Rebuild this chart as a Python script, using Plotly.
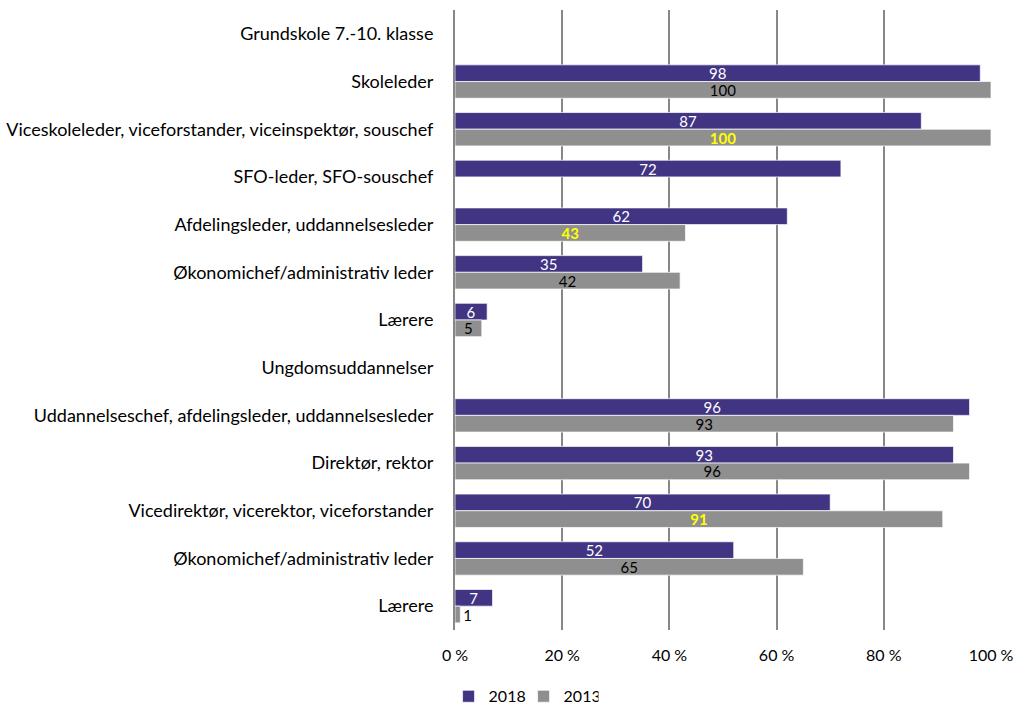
import plotly.graph_objects as go

categories = [
    'Grundskole 7.-10. klasse',
    'Skoleleder',
    'Viceskoleleder, viceforstander, viceinspektør, souschef',
    'SFO-leder, SFO-souschef',
    'Afdelingsleder, uddannelsesleder',
    'Økonomichef/administrativ leder',
    'Lærere',
    'Ungdomsuddannelser',
    'Uddannelseschef, afdelingsleder, uddannelsesleder',
    'Direktør, rektor',
    'Vicedirektør, vicerektor, viceforstander',
    'Økonomichef/administrativ leder',
    'Lærere',
]
values_2018 = [None, 98, 87, 72, 62, 35, 6, None, 96, 93, 70, 52, 7]
values_2013 = [None, 100, 100, None, 43, 42, 5, None, 93, 96, 91, 65, 1]
# yellow labels mark the highlighted 2013 values
highlight_2013 = [False, False, True, False, True, False, False, False, False, False, True, False, False]
x_ticks = [0, 20, 40, 60, 80, 100]
x_ticktext = ['0 %', '20 %', '40 %', '60 %', '80 %', '100 %']

positions = list(range(len(categories)))


def labels(values):
    return ['' if v is None else str(v) for v in values]


def text_positions(values):
    return ['outside' if (v is not None and v < 3) else 'inside' for v in values]


colors_2013 = ['#ffff00' if h else '#000000' for h in highlight_2013]
weights_2013 = ['bold' if h else 'normal' for h in highlight_2013]

fig = go.Figure()
fig.add_trace(go.Bar(
    name='2018', y=positions, x=values_2018, orientation='h',
    marker_color='#413483', marker_line=dict(color='rgba(255,255,255,0.7)', width=1),
    text=labels(values_2018), textposition=text_positions(values_2018),
    insidetextanchor='middle', textangle=0, constraintext='none',
    textfont=dict(color='#ffffff', size=15),
))
fig.add_trace(go.Bar(
    name='2013', y=positions, x=values_2013, orientation='h',
    marker_color='#8f8f8f', marker_line=dict(color='rgba(255,255,255,0.7)', width=1),
    text=labels(values_2013), textposition=text_positions(values_2013),
    insidetextanchor='middle', textangle=0, constraintext='none',
    textfont=dict(color=colors_2013, size=15, weight=weights_2013),
))
fig.update_layout(
    barmode='group',
    bargap=0.3,
    bargroupgap=0,
    width=1017,
    height=707,
    plot_bgcolor='white',
    paper_bgcolor='white',
    font_family='Lato',
    font_size=18,
    font_color='#000',
    margin=dict(l=455, r=26, t=10, b=77, autoexpand=False),
    legend=dict(orientation='h', x=-0.012, xanchor='left', y=-0.107, yanchor='middle',
                font_size=16, traceorder='normal', itemwidth=30,
                entrywidth=30, tracegroupgap=0),
)
fig.update_xaxes(
    range=[0, 100], tickvals=x_ticks, ticktext=x_ticktext,
    showgrid=True, gridcolor='#878787', gridwidth=2, zeroline=False,
    showline=False, tickfont_size=16, ticklen=0, ticklabelstandoff=14, automargin=False,
)
fig.update_yaxes(
    tickvals=positions, ticktext=categories, autorange='reversed',
    showgrid=False, zeroline=False, showline=True, linecolor='#878787', linewidth=2,
    ticks='', ticklabelstandoff=16, automargin=False,
)
fig.write_html('out.html', config={'displayModeBar': False},
               post_script="document.body.style.margin='0';")
